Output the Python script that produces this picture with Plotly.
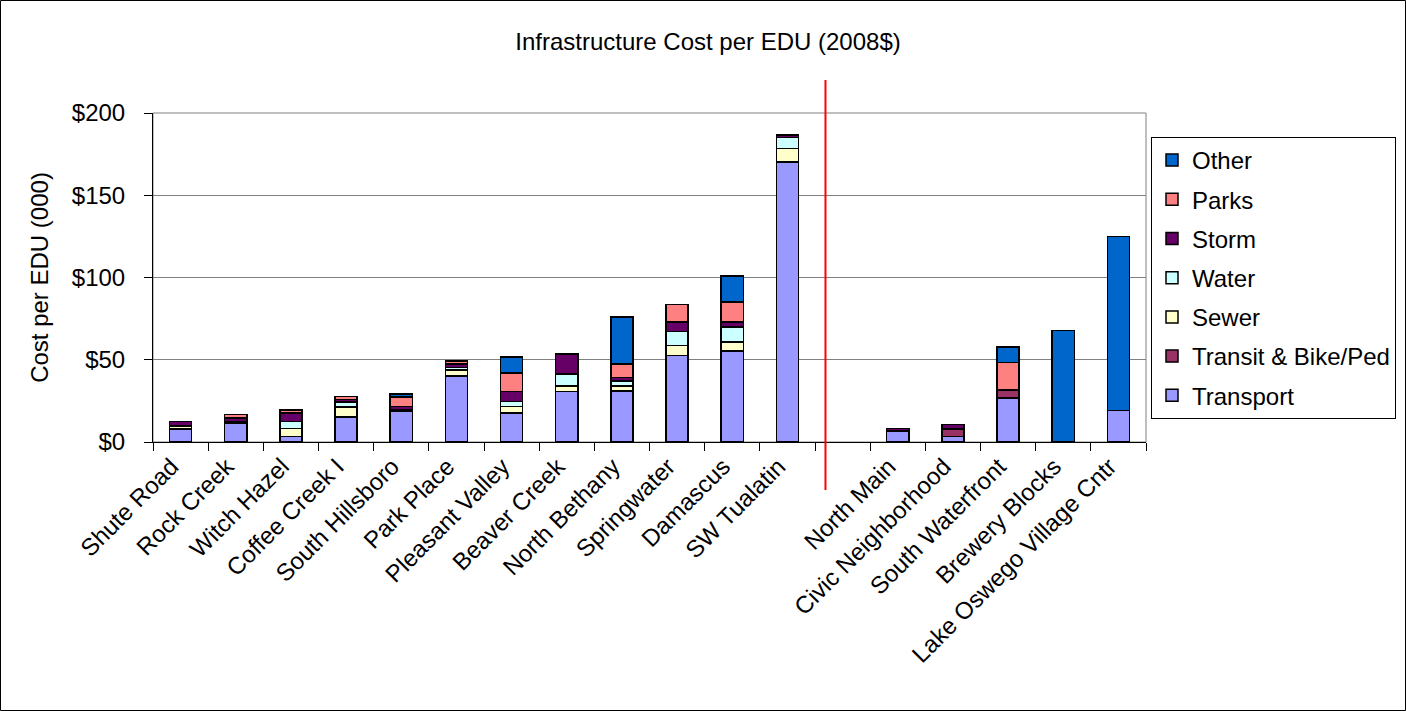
import plotly.graph_objects as go

categories = ["Shute Road", "Rock Creek", "Witch Hazel", "Coffee Creek I", "South Hillsboro",
              "Park Place", "Pleasant Valley", "Beaver Creek", "North Bethany", "Springwater",
              "Damascus", "SW Tualatin", " ", "North Main", "Civic Neighborhood",
              "South Waterfront", "Brewery Blocks", "Lake Oswego Village Cntr"]

transport = [8.0, 11.2, 3.2, 15.2, 18.7, 40.2, 17.6, 30.6, 31.0, 52.5, 55.4, 170.2, 0, 6.4, 3.3, 26.6, 0, 19.3]
transit   = [0, 0, 0, 0, 0.5, 0, 0, 0, 0, 0, 0, 0, 0, 0, 4.5, 5.0, 0, 0]
sewer     = [1.5, 0.5, 5.0, 6.1, 0.3, 3.6, 4.0, 3.4, 3.0, 6.1, 5.5, 8.3, 0, 0.3, 0, 0, 0, 0]
water     = [0.5, 0.5, 4.4, 2.9, 0.3, 1.5, 3.0, 7.3, 3.2, 8.5, 9.1, 6.7, 0, 0.3, 0, 0, 0, 0]
storm     = [2.5, 2.5, 5.0, 1.6, 1.8, 2.0, 6.0, 12.1, 2.0, 5.7, 2.8, 1.5, 0, 1.2, 2.8, 0, 0, 0]
parks     = [0, 2.0, 2.0, 2.0, 5.7, 2.0, 11.5, 0, 8.1, 10.9, 12.3, 0, 0, 0, 0, 16.8, 0, 0]
other     = [0, 0, 0, 0, 1.8, 0, 9.7, 0, 28.7, 0, 15.8, 0, 0, 0, 0, 9.5, 67.9, 105.7]

series = [
    ("Transport", transport, "#9999FF"),
    ("Transit & Bike/Ped", transit, "#993366"),
    ("Sewer", sewer, "#FFFFCC"),
    ("Water", water, "#CCFFFF"),
    ("Storm", storm, "#660066"),
    ("Parks", parks, "#FF8080"),
    ("Other", other, "#0066CC"),
]

y_ticks = [0, 50, 100, 150, 200]
y_tick_labels = ["$0", "$50", "$100", "$150", "$200"]

FONT = "Liberation Sans, Arial, sans-serif"
FS = 24

fig = go.Figure()
n = len(series)
for i, (name, vals, color) in enumerate(series):
    fig.add_trace(go.Bar(
        x=categories,
        y=[v if v else None for v in vals],
        name=name,
        legendgroup=name,
        legendrank=n - i,
        marker=dict(color=color, line=dict(color="black", width=1.5)),
    ))

W, H = 1406, 711
L, R, T, B = 153, 260, 113, 269
pw, ph = W - L - R, H - T - B

def px_x(p):
    return (p - L) / pw

def px_y(p):
    return (H - B - p) / ph

fig.update_layout(
    width=W, height=H,
    margin=dict(l=L, r=R, t=T, b=B, pad=0, autoexpand=False),
    barmode="stack",
    bargap=0.6,
    paper_bgcolor="white",
    plot_bgcolor="white",
    font=dict(family=FONT, size=FS, color="black"),
    title=dict(text="Infrastructure Cost per EDU (2008$)", x=708 / W, xanchor="center",
               y=1 - 42 / H, yanchor="middle", yref="container",
               font=dict(family=FONT, size=FS, color="black")),
    legend=dict(
        x=px_x(1151), y=px_y(137), xanchor="left", yanchor="top",
        bgcolor="white", bordercolor="black", borderwidth=1,
        traceorder="grouped", tracegroupgap=5, itemwidth=30,
        font=dict(family=FONT, size=FS, color="black"),
    ),
    showlegend=True,
)

fig.update_xaxes(
    type="category",
    categoryorder="array", categoryarray=categories,
    range=[-0.5, len(categories) - 0.5],
    tickangle=-45,
    tickson="boundaries",
    ticks="outside", ticklen=8, tickcolor="black",
    showline=True, linecolor="black", linewidth=1,
    showgrid=False,
    automargin=False,
    ticklabelshift=-9,
    tickfont=dict(family=FONT, size=FS, color="black"),
)

fig.update_yaxes(
    range=[0, 200],
    tickmode="array", tickvals=y_ticks, ticktext=y_tick_labels,
    ticks="outside", ticklen=8, tickcolor="black",
    showline=True, linecolor="black", linewidth=1,
    showgrid=True, gridcolor="#808080", gridwidth=1,
    zeroline=False,
    automargin=False,
    ticklabelstandoff=14,
    tickfont=dict(family=FONT, size=FS, color="black"),
    title=dict(text="Cost per EDU (000)", font=dict(family=FONT, size=FS, color="black"), standoff=16),
)

# plot area border (right side)
fig.add_shape(type="rect", xref="paper", yref="paper", x0=0, x1=1, y0=0, y1=1,
              line=dict(color="#808080", width=1), layer="below")
# outer chart border
fig.add_shape(type="rect", xref="paper", yref="paper",
              x0=px_x(0.5), x1=px_x(W - 0.5), y0=px_y(H - 0.5), y1=px_y(0.5),
              line=dict(color="black", width=1))
# red divider line
fig.add_shape(type="line", xref="x", yref="paper",
              x0=11.69, x1=11.69, y0=px_y(490), y1=px_y(80),
              line=dict(color="#FF0000", width=2))

fig.write_html("out.html", config={"displayModeBar": False},
               post_script="document.body.style.margin='0px';document.body.style.overflow='hidden';")
